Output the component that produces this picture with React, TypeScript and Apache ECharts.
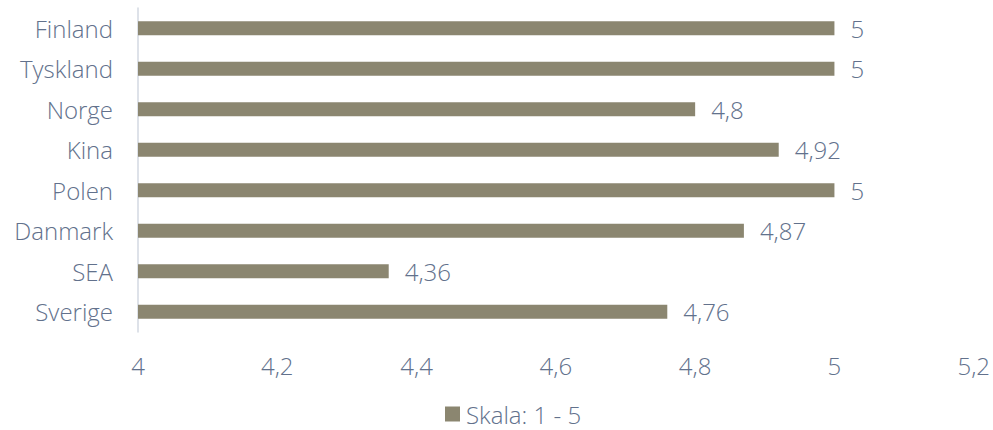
import React, { useEffect, useRef } from "react";
import * as echarts from "echarts";

const categories = ["Finland", "Tyskland", "Norge", "Kina", "Polen", "Danmark", "SEA", "Sverige"];
const values = [5, 5, 4.8, 4.92, 5, 4.87, 4.36, 4.76];
const seriesName = "Skala: 1 - 5";
const xMin = 4;
const xMax = 5.2;
const xStep = 0.2;

const TEXT = "#62718c";
const BAR = "#8b8670";
const FONT = "'Open Sans', sans-serif";
const FS = 24;

const fmt = (v: number) => String(Math.round(v * 100) / 100).replace(".", ",");

export default function App() {
  const ref = useRef<HTMLDivElement>(null);
  useEffect(() => {
    if (!ref.current) return;
    const chart = echarts.init(ref.current, undefined, { renderer: "svg" });
    chart.setOption({
      animation: false,
      textStyle: { fontFamily: FONT, fontWeight: 300 },
      grid: { left: 138, right: 19, top: 8, bottom: 98, containLabel: false },
      legend: {
        data: [seriesName],
        top: 402,
        left: 445,
        padding: 0,
        icon: "rect",
        itemWidth: 15,
        itemHeight: 15,
        itemGap: 5,
        textStyle: { color: TEXT, fontSize: FS, lineHeight: 24, fontFamily: FONT, fontWeight: 300, padding: [0, 0, 0, 1] },
      },
      xAxis: {
        type: "value",
        min: xMin,
        max: xMax,
        interval: xStep,
        axisLine: { show: false },
        axisTick: { show: false },
        splitLine: { show: false },
        axisLabel: {
          color: TEXT,
          fontSize: FS,
          fontFamily: FONT,
          fontWeight: 300,
          margin: 21,
          formatter: (v: number) => fmt(v),
        },
      },
      yAxis: {
        type: "category",
        data: categories,
        inverse: true,
        axisLine: { show: true, lineStyle: { color: "#d3d9e2", width: 1.5 } },
        axisTick: { show: false },
        axisLabel: { color: TEXT, fontSize: FS, fontFamily: FONT, fontWeight: 300, margin: 25 },
      },
      series: [
        {
          name: seriesName,
          type: "bar",
          data: values,
          barWidth: 14,
          itemStyle: { color: BAR },
          label: {
            show: true,
            position: "right",
            distance: 16,
            color: TEXT,
            fontSize: FS,
            fontFamily: FONT,
            fontWeight: 300,
            formatter: (p: any) => fmt(p.value),
          },
        },
      ],
    });
    return () => chart.dispose();
  }, []);
  return <div ref={ref} style={{ width: 993, height: 430, position: "absolute", left: 0, top: 0 }} />;
}
